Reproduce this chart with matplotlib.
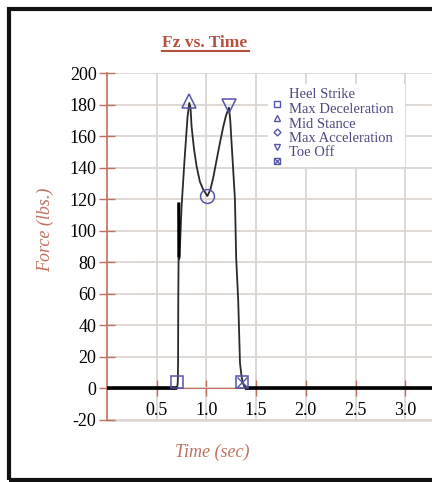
import matplotlib.pyplot as plt
from matplotlib.patches import Rectangle
from matplotlib.lines import Line2D

plt.rcParams['axes.unicode_minus'] = False

# datos de la curva Fz
tiempo = [0.0, 0.705, 0.712, 0.715, 0.717, 0.720, 0.722, 0.724, 0.727, 0.735, 0.75,
          0.78, 0.81, 0.828, 0.84, 0.851, 0.875, 0.901, 0.935, 0.969, 1.01, 1.04,
          1.07, 1.10, 1.137, 1.17, 1.197, 1.22, 1.227, 1.24, 1.253, 1.27, 1.287,
          1.30, 1.32, 1.338, 1.355, 1.37, 1.39, 3.3]
fuerza = [0, 0, 4, 16, 56, 82, 117, 84, 82, 92, 115,
          145, 172, 181, 178, 166, 152, 141, 131, 126, 122, 126,
          134, 144, 156, 166, 173, 177, 178, 170, 156, 138, 120,
          82, 56, 16, 7, 3, 0, 0]

eventos = ["Heel Strike", "Max Deceleration", "Mid Stance", "Max Acceleration", "Toe Off"]
evento_t = [0.707, 0.826, 1.003, 1.224, 1.355]
evento_f = [4, 182, 122, 179, 4]

xticks = [0.5, 1.0, 1.5, 2.0, 2.5, 3.0]
yticks = list(range(-20, 201, 20))

rojo = '#c0705f'
azul = '#5454aa'
gris = '#dcd5d1'
serif = 'Liberation Serif'

W, H = 432, 482
fig = plt.figure(figsize=(W / 100, H / 100), dpi=100)
fig.patch.set_facecolor('white')

def fx(px):
    return px / W

def fy(py):
    return 1 - py / H

ax = fig.add_axes([fx(107), fy(420), 1 - fx(107), fy(73) - fy(420)])
ax.set_xlim(0, (W - 107) / 99.4)
ax.set_ylim(-20, 200)

ax.grid(True, color=gris, lw=1.3)
ax.set_axisbelow(True)
for s in ['top', 'right', 'left']:
    ax.spines[s].set_visible(False)
ax.spines['bottom'].set_position(('data', 0))
ax.spines['bottom'].set_color(rojo)
ax.set_xticks(xticks)
ax.set_yticks(yticks)
ax.set_xticklabels([f"{v:.1f}" for v in xticks])
ax.tick_params(axis='both', direction='inout', length=11, color=rojo, width=1,
               labelsize=13, labelcolor='black')
ax.tick_params(axis='x', pad=4)
ax.tick_params(axis='y', pad=2)
for lab in ax.get_xticklabels() + ax.get_yticklabels():
    lab.set_family(serif)

# eje y y linea de rejilla en -20
ax.axvline(0, color=rojo, lw=1.2, clip_on=False, zorder=2)
ax.axhline(-20, color=gris, lw=1.8, clip_on=False, zorder=0)

# curva
ax.plot(tiempo, fuerza, color='#2a2a2a', lw=1.3, zorder=3)
ax.plot(tiempo[:2], fuerza[:2], color='black', lw=2.6, zorder=3, solid_capstyle='butt')
ax.plot(tiempo[-2:], fuerza[-2:], color='black', lw=2.6, zorder=3, solid_capstyle='butt')
ax.plot([tiempo[6], tiempo[7]], [fuerza[6], fuerza[7]], color='black', lw=2.2, zorder=3)

# marcadores de eventos
mk = ['s', '^', 'o', 'v', 's']
ms = [9, 10, 10, 10, 9]
for i in range(5):
    ax.plot(evento_t[i], evento_f[i], marker=mk[i], ms=ms[i], mfc='none',
            mec=azul, mew=1.1, zorder=4, clip_on=False)
ax.plot(evento_t[4], evento_f[4], marker='x', ms=7, mec=azul, mew=1, zorder=4)

# leyenda manual
fig.patches.append(Rectangle((fx(268), fy(167)), fx(405) - fx(268), fy(84) - fy(167),
                             transform=fig.transFigure, facecolor='white',
                             edgecolor='none', zorder=2))
ley_mk = ['s', '^', 'D', 'v', 's']
ley_ms = [5, 5, 3.5, 5, 5]
for i in range(5):
    y_txt = 95 + i * 14.5
    y_mk = 104 + i * 14.2
    fig.text(fx(289), fy(y_txt), eventos[i], ha='left', va='center',
             fontsize=10.5, family=serif, color='#4a4a82', zorder=5)
    fig.add_artist(Line2D([fx(277)], [fy(y_mk)], marker=ley_mk[i], ms=ley_ms[i],
                          mfc='none', mec=azul, mew=1, zorder=5))
fig.add_artist(Line2D([fx(277)], [fy(104 + 4 * 14.2)], marker='x', ms=4,
                      mec=azul, mew=0.9, zorder=5))

# titulo subrayado
fig.text(fx(205), fy(43), "Fz vs. Time", ha='center', va='center', fontsize=12.5,
         fontweight='bold', family=serif, color='#b5503f')
fig.add_artist(Line2D([fx(162), fx(249)], [fy(51), fy(51)], color='#b5503f', lw=1.5))

# etiquetas de ejes
fig.text(fx(45), fy(230), "Force (lbs.)", rotation=90, ha='center', va='center',
         fontsize=13, style='italic', family=serif, color=rojo)
fig.text(fx(212), fy(452), "Time (sec)", ha='center', va='center',
         fontsize=13, style='italic', family=serif, color=rojo)

# marco negro
fig.patches.append(Rectangle((fx(9), fy(480)), fx(460) - fx(9), fy(9) - fy(480),
                             transform=fig.transFigure, facecolor='none',
                             edgecolor='#111111', lw=3, zorder=10))

fig.savefig('out.png', dpi=100)
